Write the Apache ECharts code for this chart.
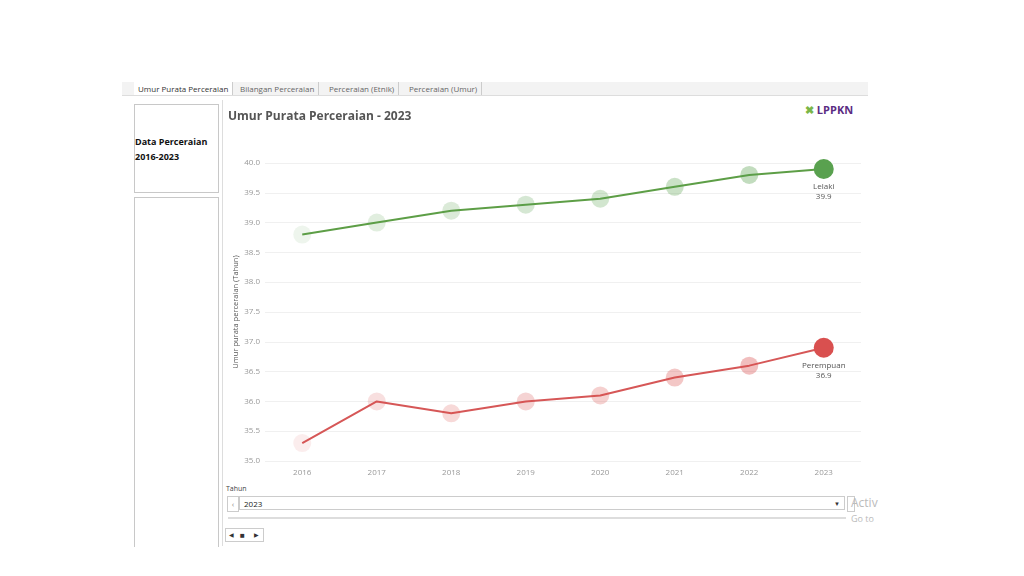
<!DOCTYPE html>
<html>
<head>
<meta charset="utf-8">
<script src="https://cdn.jsdelivr.net/npm/echarts@6/dist/echarts.min.js"></script>
<style>
  html, body { margin:0; padding:0; background:#fff; }
  body { width:1024px; height:576px; position:relative; overflow:hidden; font-family:"Open Sans", Lato, sans-serif; }
  .abs { position:absolute; }
  #tabs { left:122px; top:82px; width:746px; height:13px; background:#f3f3f3; border-bottom:1px solid #ddd; }
  .tab { position:absolute; top:0; height:13px; line-height:13px; font-size:8px; color:#666; border-right:1px solid #ccc; padding:0 4px; }
  .tab.on { color:#333; background:#fff; }
  .box { border:1px solid #c8c8c8; background:#fff; }
  #chart { left:0; top:0; width:1024px; height:576px; }
</style>
</head>
<body>
<div id="tabs" class="abs">
  <div class="tab on" style="left:12px;">Umur Purata Perceraian</div>
  <div class="tab" style="left:114px;">Bilangan Perceraian</div>
  <div class="tab" style="left:203px;">Perceraian (Etnik)</div>
  <div class="tab" style="left:283px;">Perceraian (Umur)</div>
</div>
<div class="abs box" style="left:134px;top:104px;width:83px;height:87px;">
  <div style="position:absolute;left:0;top:29px;font-size:9px;font-weight:bold;color:#111;line-height:15px;">Data Perceraian<br>2016-2023</div>
</div>
<div class="abs box" style="left:134px;top:197px;width:83px;height:349px;border-bottom:none;"></div>
<div class="abs" style="left:222px;top:100px;width:1px;height:446px;background:#ddd;"></div>

<div class="abs" style="left:226px;top:484px;font-size:7px;color:#444;">Tahun</div>
<div class="abs" style="left:227px;top:496px;width:10px;height:14px;border:1px solid #ccc;font-size:8px;color:#888;text-align:center;line-height:14px;">&lsaquo;</div>
<div class="abs" style="left:239px;top:496px;width:606px;height:14px;border:1px solid #ccc;font-size:8px;color:#222;line-height:14px;padding-left:4px;box-sizing:border-box;">2023<span style="position:absolute;right:4px;font-size:6px;color:#333;">&#9660;</span></div>
<div class="abs" style="left:847px;top:496px;width:6px;height:14px;border:1px solid #ccc;"></div>
<div class="abs" style="left:851px;top:494px;font-size:12px;color:#bbb;">Activ</div>
<div class="abs" style="left:851px;top:512px;font-size:9px;color:#bbb;">Go to</div>
<div class="abs" style="left:228px;top:517px;width:618px;height:2px;background:#ddd;"></div>
<div class="abs" style="left:225px;top:528px;width:37px;height:12px;border:1px solid #ccc;font-size:6px;color:#333;line-height:12px;">
  <span style="position:absolute;left:3px;">&#9664;</span><span style="position:absolute;left:14px;font-size:8px;">&#9632;</span><span style="position:absolute;left:28px;">&#9654;</span>
</div>
<div class="abs" style="left:805px;top:102px;font-size:11px;font-weight:bold;color:#5b2c83;"><span style="color:#7ab648;">&#10006;</span> LPPKN</div>
<div id="chart" class="abs"></div>
<script>
const years = ['2016','2017','2018','2019','2020','2021','2022','2023'];
const lelaki = [38.8, 39.0, 39.2, 39.3, 39.4, 39.6, 39.8, 39.9];
const perempuan = [35.3, 36.0, 35.8, 36.0, 36.1, 36.4, 36.6, 36.9];
const fade = [0.1, 0.18, 0.22, 0.25, 0.27, 0.32, 0.37, 1];

const chart = echarts.init(document.getElementById('chart'));

function pts(vals, color) {
  return vals.map((v, i) => ({
    value: v,
    itemStyle: { color: color, opacity: fade[i] },
    symbolSize: i === vals.length - 1 ? 20 : 18
  }));
}

function series(name, vals, lineColor, dotColor) {
  return {
    name: name,
    type: 'line',
    data: pts(vals, dotColor),
    symbol: 'circle',
    lineStyle: { color: lineColor, width: 2 },
    z: 3,
    label: {
      show: true,
      position: 'bottom',
      distance: 3,
      fontSize: 8,
      lineHeight: 10,
      color: '#555',
      fontFamily: 'Open Sans',
      formatter: p => p.dataIndex === vals.length - 1 ? name + '\n' + p.value.toFixed(1) : ''
    }
  };
}

chart.setOption({
  animation: false,
  title: {
    text: 'Umur Purata Perceraian - 2023',
    left: 223, top: 106,
    textStyle: { fontSize: 12, fontWeight: 'bold', color: '#555', fontFamily: 'Open Sans' }
  },
  grid: { left: 265, right: 1024 - 861, top: 163, bottom: 576 - 461 },
  xAxis: {
    type: 'category',
    data: years,
    axisLine: { show: false },
    axisTick: { show: false },
    axisLabel: { fontSize: 8, color: '#999', margin: 8, fontFamily: 'Open Sans' }
  },
  yAxis: {
    type: 'value',
    min: 35, max: 40, interval: 0.5,
    name: 'Umur purata perceraian (Tahun)',
    nameLocation: 'middle',
    nameGap: 25,
    nameMoveOverlap: false,
    nameTextStyle: { fontSize: 7.5, color: '#555', fontFamily: 'Open Sans' },
    axisLine: { show: false },
    axisTick: { show: false },
    splitLine: { lineStyle: { color: '#f0f0f0' } },
    axisLabel: { fontSize: 8, color: '#999', margin: 5, fontFamily: 'Open Sans', formatter: v => v.toFixed(1) }
  },
  series: [
    series('Lelaki', lelaki, '#5d9e46', '#59a14f'),
    series('Perempuan', perempuan, '#d65757', '#d9504f')
  ]
});
</script>
</body>
</html>
